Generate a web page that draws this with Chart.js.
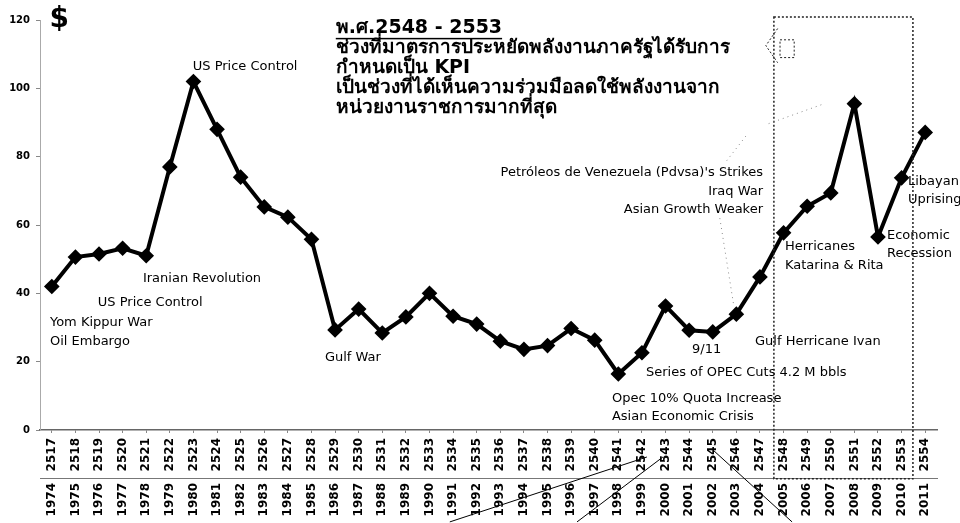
<!DOCTYPE html>
<html>
<head>
<meta charset="utf-8">
<script src="https://cdn.jsdelivr.net/npm/chart.js@4"></script>
<style>
  body { margin: 0; background: #fff; }
  #wrap { width: 960px; height: 523px; }
</style>
</head>
<body>
<div id="wrap"><canvas id="oilChart" width="960" height="523"></canvas></div>
<script>
// Buddhist-era years (upper row) and Gregorian years (lower row)
const thaiYears = ['2517','2518','2519','2520','2521','2522','2523','2524','2525','2526',
  '2527','2528','2529','2530','2531','2532','2533','2534','2535','2536',
  '2537','2538','2539','2540','2541','2542','2543','2544','2545','2546',
  '2547','2548','2549','2550','2551','2552','2553','2554'];
const years = ['1974','1975','1976','1977','1978','1979','1980','1981','1982','1983',
  '1984','1985','1986','1987','1988','1989','1990','1991','1992','1993',
  '1994','1995','1996','1997','1998','1999','2000','2001','2002','2003',
  '2004','2005','2006','2007','2008','2009','2010','2011'];

// crude oil price, US$ per barrel
const oilPrice = [42, 50.6, 51.5, 53.2, 51, 77, 102, 88, 74, 65.3,
  62.3, 55.8, 29.3, 35.4, 28.4, 33.1, 40, 33.3, 31, 26,
  23.6, 24.7, 29.7, 26.3, 16.4, 22.6, 36.3, 29.2, 28.7, 33.9,
  44.8, 57.7, 65.5, 69.4, 95.5, 56.5, 73.8, 87.1];

const yTicks = [0, 20, 40, 60, 80, 100, 120];

// event notes: [text, x index, y value, align]
const notes = [
  ['US Price Control', 5.97, 106.5, 'left'],
  ['Iranian Revolution', 3.86, 44.2, 'left'],
  ['US Price Control', 1.95, 37.2, 'left'],
  ['Yom Kippur War', -0.08, 31.3, 'left'],
  ['Oil Embargo', -0.08, 25.8, 'left'],
  ['Gulf War', 11.57, 21.1, 'left'],
  ["Petróleos de Venezuela (Pdvsa)'s Strikes", 30.13, 75.2, 'right'],
  ['Iraq War', 30.13, 69.7, 'right'],
  ['Asian Growth Weaker', 30.13, 64.4, 'right'],
  ['Herricanes', 31.06, 53.6, 'left'],
  ['Katarina & Rita', 31.06, 48.0, 'left'],
  ['Economic', 35.38, 56.8, 'left'],
  ['Recession', 35.38, 51.5, 'left'],
  ['Libayan', 36.27, 72.6, 'left'],
  ['Uprising', 36.27, 67.3, 'left'],
  ['9/11', 27.12, 23.4, 'left'],
  ['Gulf Herricane Ivan', 29.79, 25.8, 'left'],
  ['Series of OPEC Cuts 4.2 M bbls', 25.17, 16.7, 'left'],
  ['Opec 10% Quota Increase', 23.73, 9.1, 'left'],
  ['Asian Economic Crisis', 23.73, 3.8, 'left']
];

const thaiTitle = 'พ.ศ.2548 - 2553';
const thaiLines = [
  'ช่วงที่มาตรการประหยัดพลังงานภาครัฐได้รับการ',
  'กำหนดเป็น KPI',
  'เป็นช่วงที่ได้เห็นความร่วมมือลดใช้พลังงานจาก',
  'หน่วยงานราชการมากที่สุด'
];

const annotate = {
  id: 'annotate',
  afterDraw(chart) {
    const ctx = chart.ctx;
    const xs = chart.scales.x, ys = chart.scales.y;
    const px = v => xs.getPixelForValue(v);
    const py = v => ys.getPixelForValue(v);
    ctx.save();

    // dollar sign
    ctx.fillStyle = '#000';
    ctx.font = 'bold 28px "DejaVu Sans", sans-serif';
    ctx.textAlign = 'left';
    ctx.textBaseline = 'middle';
    ctx.fillText('$', px(-0.1), py(120));

    // event notes
    ctx.font = '13px "DejaVu Sans", sans-serif';
    notes.forEach(n => {
      ctx.textAlign = n[3];
      ctx.fillText(n[0], px(n[1]), py(n[2]));
    });

    // Thai text block
    const tx = px(12.03);
    ctx.textAlign = 'left';
    ctx.font = 'bold 19px Tahoma, "DejaVu Sans", sans-serif';
    ctx.fillText(thaiTitle, tx, py(117.7));
    const w = ctx.measureText(thaiTitle).width;
    ctx.fillRect(tx, py(117.7) + 10, w, 1.5);
    thaiLines.forEach((t, i) => ctx.fillText(t, tx, py(111.8 - i * 5.85)));

    // dotted box around 2548-2553
    ctx.strokeStyle = '#222';
    ctx.lineWidth = 1.5;
    ctx.setLineDash([2, 2]);
    ctx.strokeRect(px(30.59), py(120.9), px(36.48) - px(30.59), py(-14.3) - py(120.9));

    // callout bracket next to the Thai text
    ctx.lineWidth = 1;
    ctx.beginPath();
    ctx.moveTo(px(30.75), py(117.5));
    ctx.lineTo(px(30.25), py(112.5));
    ctx.lineTo(px(30.75), py(107.5));
    ctx.stroke();
    ctx.strokeRect(px(30.85), py(114.2), px(31.45) - px(30.85), py(109) - py(114.2));

    // faint dotted leaders
    ctx.strokeStyle = '#888';
    ctx.setLineDash([1, 4]);
    ctx.beginPath();
    ctx.moveTo(px(32.6), py(95.2));
    ctx.lineTo(px(30.3), py(89.5));
    ctx.moveTo(px(29.4), py(86));
    ctx.lineTo(px(28.5), py(78));
    ctx.moveTo(px(28.3), py(62));
    ctx.lineTo(px(28.9), py(36));
    ctx.stroke();

    // leader lines below the axis
    ctx.setLineDash([]);
    ctx.strokeStyle = '#000';
    ctx.lineWidth = 1;
    ctx.beginPath();
    ctx.moveTo(px(16.86), py(-26.9));
    ctx.lineTo(px(25.21), py(-7.9));
    ctx.moveTo(px(22.25), py(-26.9));
    ctx.lineTo(px(25.89), py(-7.9));
    ctx.moveTo(px(28.01), py(-5.85));
    ctx.lineTo(px(31.36), py(-26.9));
    ctx.stroke();
    ctx.restore();
  }
};

const tickFont = { family: '"DejaVu Sans", sans-serif', size: 12, weight: 'bold' };

new Chart(document.getElementById('oilChart'), {
  type: 'line',
  data: {
    labels: thaiYears,
    datasets: [{
      data: oilPrice,
      borderColor: '#000',
      backgroundColor: '#000',
      borderWidth: 4,
      pointStyle: 'rectRot',
      pointRadius: 5,
      pointBackgroundColor: '#000',
      pointBorderColor: '#000',
      tension: 0,
      xAxisID: 'x'
    }]
  },
  options: {
    responsive: false,
    animation: false,
    devicePixelRatio: 1,
    layout: { padding: { left: 0, right: 23, top: 20, bottom: 0 } },
    plugins: { legend: { display: false }, tooltip: { enabled: false } },
    scales: {
      x: {
        type: 'category',
        labels: thaiYears,
        position: 'bottom',
        weight: 0,
        offset: true,
        grid: { drawOnChartArea: false, drawTicks: true, tickLength: 3, color: '#888' },
        border: { color: '#666', width: 1.5 },
        ticks: { autoSkip: false, minRotation: 90, maxRotation: 90, padding: 5, color: '#000', font: tickFont },
        afterFit: s => { s.height = 48; }
      },
      x2: {
        type: 'category',
        labels: years,
        position: 'bottom',
        weight: 1,
        offset: true,
        grid: { drawOnChartArea: false, drawTicks: false },
        border: { color: '#777', dash: [8, 3, 2, 3] },
        ticks: { autoSkip: false, minRotation: 90, maxRotation: 90, padding: 5, color: '#000', font: tickFont },
        afterFit: s => { s.height = 45; }
      },
      y: {
        min: 0,
        max: 120,
        afterBuildTicks: s => { s.ticks = yTicks.map(v => ({ value: v })); },
        grid: { drawOnChartArea: false, tickLength: 4, color: '#888' },
        border: { color: '#aaa', dash: [1, 3] },
        ticks: { padding: 6, color: '#000', font: { family: '"DejaVu Sans", sans-serif', size: 10, weight: 'bold' } },
        afterFit: s => { s.width = 40; }
      }
    }
  },
  plugins: [annotate]
});
</script>
</body>
</html>
